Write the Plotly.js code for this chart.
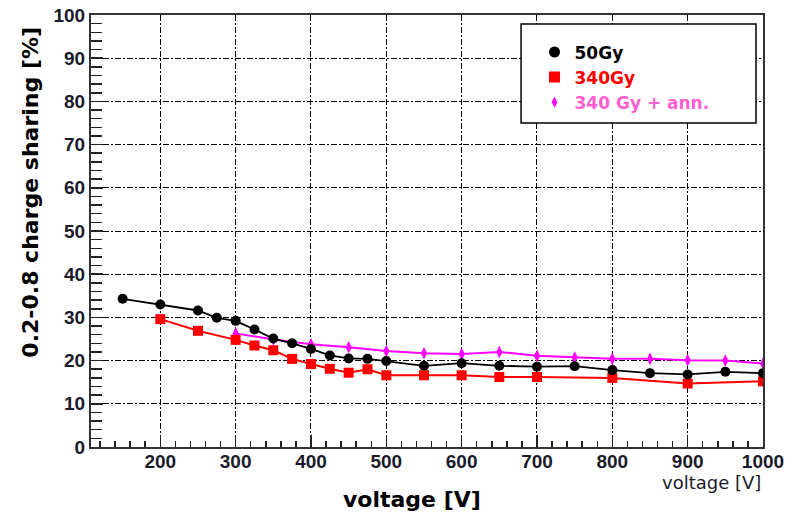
<!DOCTYPE html>
<html>
<head>
<meta charset="utf-8">
<script src="https://cdn.plot.ly/plotly-3.0.1.min.js"></script>
<style>
  html, body { margin: 0; padding: 0; background: #ffffff; }
  #chart { width: 796px; height: 512px; }
</style>
</head>
<body>
<div id="chart"></div>
<script>
// Charge sharing (0.2-0.8 window) versus bias voltage for three sensor states
const volt50 = [150, 200, 250, 275, 300, 325, 350, 375, 400, 425, 450, 475, 500, 550, 600, 650, 700, 750, 800, 850, 900, 950, 1000];
const share50 = [34.3, 33.0, 31.6, 29.9, 29.2, 27.2, 25.1, 24.0, 22.7, 21.2, 20.5, 20.4, 19.9, 18.8, 19.4, 18.8, 18.6, 18.7, 17.8, 17.1, 16.8, 17.4, 17.1];

const volt340 = [200, 250, 300, 325, 350, 375, 400, 425, 450, 475, 500, 550, 600, 650, 700, 800, 900, 1000];
const share340 = [29.6, 26.9, 24.8, 23.5, 22.4, 20.4, 19.2, 18.1, 17.2, 18.0, 16.6, 16.6, 16.6, 16.2, 16.2, 16.0, 14.7, 15.2];

const voltAnn = [300, 350, 400, 450, 500, 550, 600, 650, 700, 750, 800, 850, 900, 950, 1000];
const shareAnn = [26.3, 24.9, 23.8, 23.1, 22.2, 21.7, 21.5, 22.0, 21.1, 20.7, 20.4, 20.4, 20.1, 20.0, 19.3];

const seriesNames = ['50Gy', '340Gy', '340 Gy + ann.'];
const xTickVals = [200, 300, 400, 500, 600, 700, 800, 900, 1000];
const yTickVals = [0, 10, 20, 30, 40, 50, 60, 70, 80, 90, 100];

const style = [
  { line: '#000000', marker: '#000000', symbol: 'circle', size: 10, width: 1.8, text: '#000000' },
  { line: '#ff0000', marker: '#ff0000', symbol: 'square', size: 10, width: 2, text: '#ff0000' },
  { line: '#ff00ff', marker: '#ff00ff', symbol: 'diamond-tall', size: 9, width: 2, text: '#ff5fd0' }
];
const xs = [volt50, volt340, voltAnn];
const ys = [share50, share340, shareAnn];

const traces = [];
// data curves (drawn in reverse so the black series sits on top)
for (let i = 2; i >= 0; i--) {
  traces.push({
    x: xs[i], y: ys[i], type: 'scatter', mode: 'lines+markers',
    line: { color: style[i].line, width: style[i].width },
    marker: { color: style[i].marker, symbol: style[i].symbol, size: style[i].size },
    showlegend: false, hoverinfo: 'skip'
  });
}
// marker-only legend entries
for (let i = 0; i < 3; i++) {
  traces.push({
    x: [null], y: [null], type: 'scatter', mode: 'markers',
    marker: { color: style[i].marker, symbol: style[i].symbol, size: style[i].symbol === 'diamond-tall' ? 8 : 11 },
    name: '<b><span style="color:' + style[i].text + '">' + seriesNames[i] + '</span></b>',
    showlegend: true
  });
}

const gridDash = '6px,2px,2px,2px';
const tickFont = { family: '"Liberation Sans", Arial, sans-serif', size: 19, color: '#1a1a2a', weight: 'bold' };

const layout = {
  width: 796, height: 512,
  margin: { l: 91, r: 33, t: 15, b: 65 },
  paper_bgcolor: '#ffffff', plot_bgcolor: '#ffffff',
  showlegend: true,
  legend: {
    x: 0.66, y: 0.955, xanchor: 'left', yanchor: 'top',
    bgcolor: 'rgba(0,0,0,0)', borderwidth: 0,
    font: { family: '"DejaVu Sans", sans-serif', size: 17, color: '#000000' },
    itemwidth: 30, tracegroupgap: 0
  },
  xaxis: {
    range: [108, 1000], tickmode: 'array', tickvals: xTickVals,
    ticks: 'inside', ticklen: 12, tickwidth: 1.5, tickcolor: '#222222',
    showline: true, linecolor: '#333333', linewidth: 2, mirror: true,
    showgrid: true, gridcolor: '#000000', gridwidth: 1, griddash: gridDash,
    zeroline: false, ticklabelstandoff: -4,
    tickfont: tickFont,
    minor: { dtick: 20, tick0: 0, ticks: 'inside', ticklen: 6, tickwidth: 1.5, tickcolor: '#222222', showgrid: false }
  },
  yaxis: {
    range: [0, 100], tickmode: 'array', tickvals: yTickVals,
    ticks: 'inside', ticklen: 12, tickwidth: 1.5, tickcolor: '#222222',
    showline: true, linecolor: '#333333', linewidth: 2, mirror: true,
    showgrid: true, gridcolor: '#000000', gridwidth: 1, griddash: gridDash,
    zeroline: false,
    tickfont: tickFont,
    minor: { dtick: 2, tick0: 0, ticks: 'inside', ticklen: 11, tickwidth: 1.5, tickcolor: '#222222', showgrid: false }
  },
  shapes: [
    { type: 'rect', xref: 'paper', yref: 'paper', x0: 0.640, x1: 0.9896, y0: 0.75, y1: 0.979,
      line: { color: '#000000', width: 1.5 }, fillcolor: '#ffffff', layer: 'above' }
  ],
  annotations: [
    { text: '<b>0.2-0.8 charge sharing [%]</b>', xref: 'paper', yref: 'paper',
      x: -0.09, y: 0.59, xanchor: 'center', yanchor: 'middle', textangle: -90, showarrow: false,
      font: { family: '"DejaVu Sans", sans-serif', size: 22, color: '#000000' } },
    { text: '<b>voltage [V]</b>', xref: 'paper', yref: 'paper',
      x: 0.478, y: -0.121, xanchor: 'center', yanchor: 'middle', showarrow: false,
      font: { family: '"DejaVu Sans", sans-serif', size: 22, color: '#000000' } },
    { text: 'voltage [V]', xref: 'paper', yref: 'paper',
      x: 1.0, y: -0.083, xanchor: 'right', yanchor: 'middle', showarrow: false,
      font: { family: '"DejaVu Sans", sans-serif', size: 18, color: '#1a1a2a' } }
  ]
};

Plotly.newPlot('chart', traces, layout, { displayModeBar: false, staticPlot: true });
</script>
</body>
</html>
